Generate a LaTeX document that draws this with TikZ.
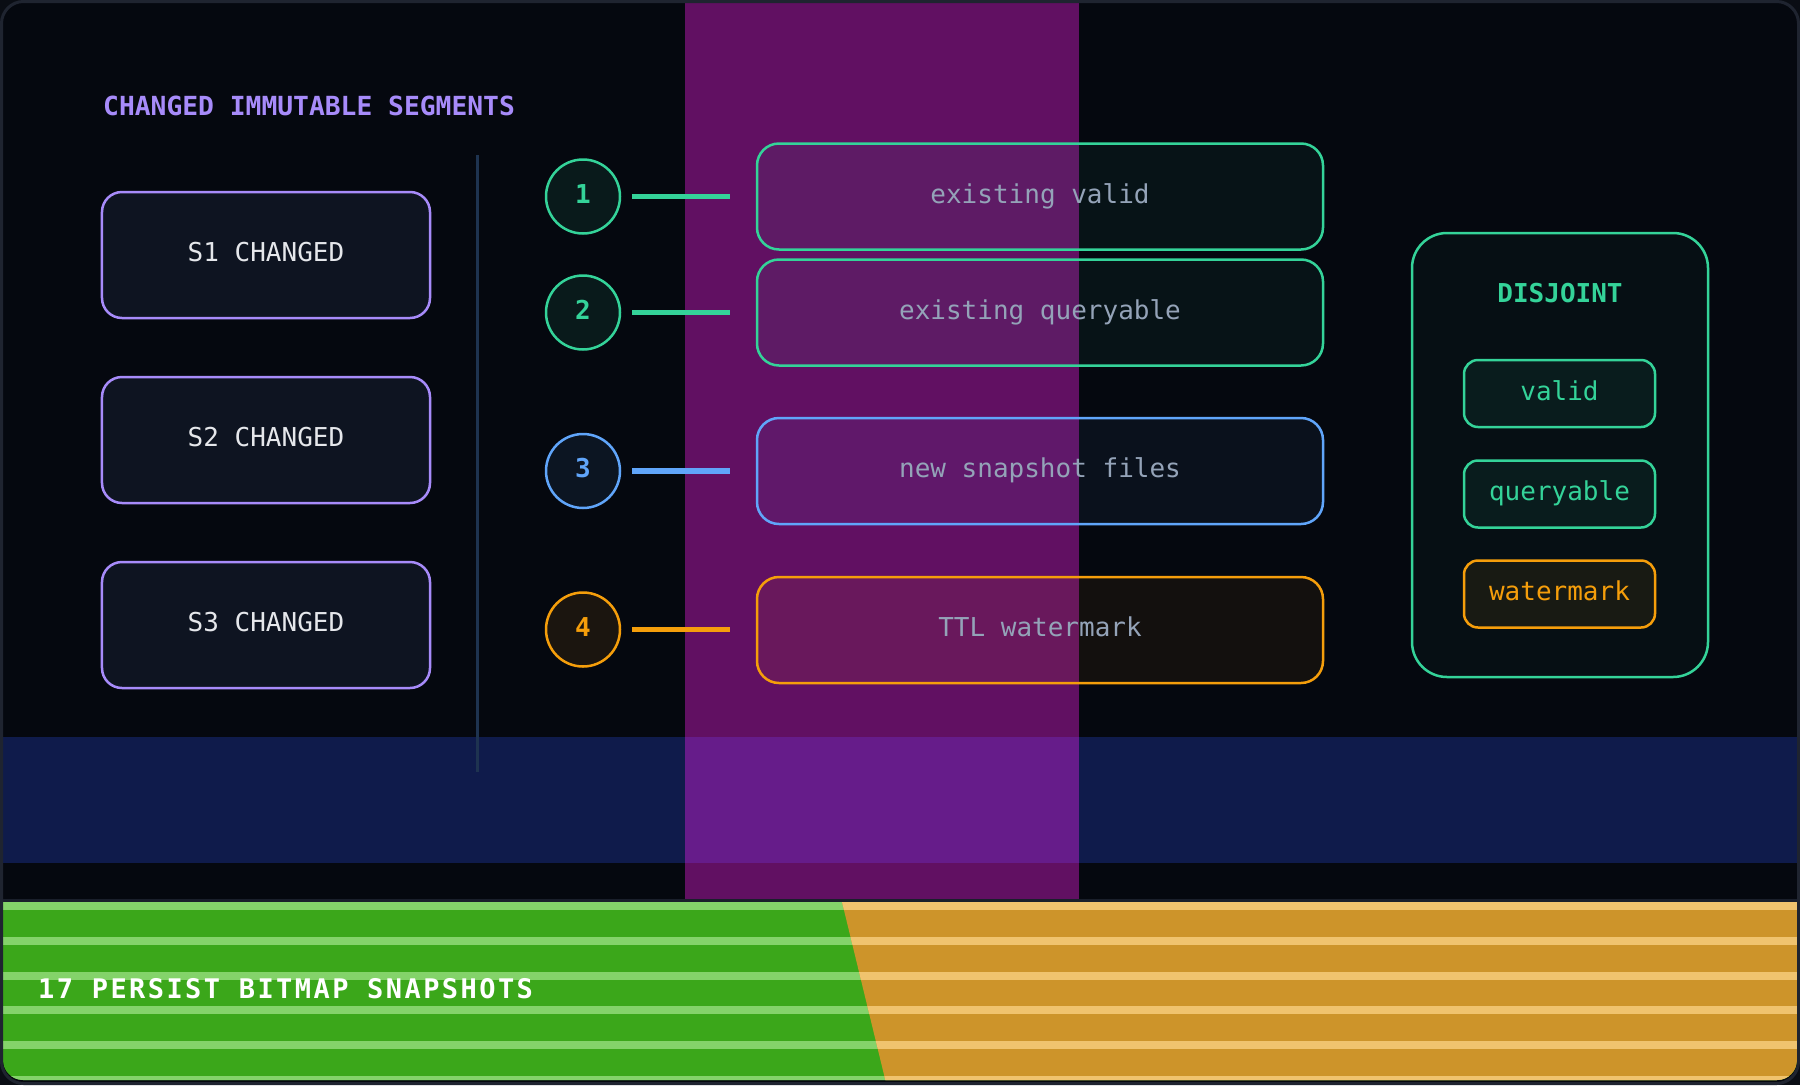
\documentclass[tikz,border=0pt]{standalone}
\usepackage{fontspec}
\setmainfont{DejaVu Sans Mono}
\definecolor{outerbg}{HTML}{0A0D14}
\definecolor{bg}{HTML}{05080F}
\definecolor{framec}{HTML}{1F2430}
\definecolor{colpurple}{HTML}{611062}
\definecolor{bandblue}{HTML}{0F1B4B}
\definecolor{bandmix}{HTML}{661C8A}
\definecolor{violetc}{HTML}{A78BFA}
\definecolor{greenc}{HTML}{34D399}
\definecolor{bluec}{HTML}{60A5FA}
\definecolor{orangec}{HTML}{F59E0B}
\definecolor{grayt}{HTML}{94A3B8}
\definecolor{whitet}{HTML}{E5E7EB}
\definecolor{sfill}{HTML}{0E1421}
\definecolor{divc}{HTML}{1E3350}
\definecolor{barg}{HTML}{3BA71A}
\definecolor{bargl}{HTML}{84D36A}
\definecolor{baro}{HTML}{CD942A}
\definecolor{barol}{HTML}{F0C36E}
\definecolor{sepc}{HTML}{1A1F2B}
\newcommand{\fsz}[1]{\fontsize{#1bp}{#1bp}\selectfont}
\tikzset{
  txtm/.style={text height=18.7bp, text depth=5.2bp},
  sbox/.style={draw=violetc, fill=sfill, line width=2.5bp, rounded corners=20bp,
    minimum width=328bp, minimum height=126bp, text=whitet, font=\fsz{26}, txtm},
  circ/.style={circle, line width=2.5bp, minimum size=74bp, inner sep=0pt,
    font=\fsz{26}\bfseries, txtm},
  ibox/.style={line width=2.5bp, rounded corners=22bp, minimum width=566bp,
    minimum height=106bp, fill opacity=0.06, text opacity=1, text=grayt, font=\fsz{26}, txtm},
  conn/.style={line width=5.5bp},
  smallbox/.style={line width=2.5bp, rounded corners=14bp, minimum width=191bp,
    minimum height=67bp, text opacity=1, font=\fsz{26}, txtm},
}
\begin{document}
\begin{tikzpicture}[x=1bp,y=-1bp]
\useasboundingbox (0,0) rectangle (1800,1085);
\fill[outerbg] (0,0) rectangle (1800,1085);
\fill[bg, rounded corners=22bp] (1.5,1.5) rectangle (1798.5,1083.5);
% purple column and blue band
\fill[colpurple] (685,2) rectangle (1079,899);
\fill[bandblue] (3,737) rectangle (1797,863);
\fill[bandmix] (685,737) rectangle (1079,863);
% bottom bar
\begin{scope}
  \clip[rounded corners=20bp] (3,3) rectangle (1797,1080);
  \fill[barg] (0,902) rectangle (1800,1085);
  \foreach \yy in {902,936.8,971.6,1006.4,1041.2,1076}
    \fill[bargl] (0,\yy) rectangle (1800,\yy+8);
  \begin{scope}
    \clip (842,902) -- (1800,902) -- (1800,1085) -- (886.5,1085) -- cycle;
    \fill[baro] (0,902) rectangle (1800,1085);
    \foreach \yy in {902,936.8,971.6,1006.4,1041.2,1076}
      \fill[barol] (0,\yy) rectangle (1800,\yy+8);
  \end{scope}
\end{scope}
\draw[sepc, line width=3bp] (3,900.5) -- (1797,900.5);
\node[anchor=west, inner sep=0pt, text=white, font=\fsz{27}\bfseries\addfontfeature{LetterSpace=9}] (bartitle) at (38,989) {17 PERSIST BITMAP SNAPSHOTS};
% frame
\draw[framec, line width=3bp, rounded corners=22bp] (1.5,1.5) rectangle (1798.5,1083.5);
% title
\node[anchor=west, inner sep=0pt, text=violetc, font=\fsz{26.3}\bfseries] (title) at (103,106) {CHANGED IMMUTABLE SEGMENTS};
% segment boxes
\node[sbox] (s1) at (266,255) {S1 CHANGED};
\node[sbox] (s2) at (266,440) {S2 CHANGED};
\node[sbox] (s3) at (266,625) {S3 CHANGED};
% divider
\coordinate (dvt) at (477.5,155);
\coordinate (dvb) at (477.5,772);
\draw[divc, line width=3bp] (dvt) -- (dvb);
% circles
\node[circ, draw=greenc, fill=greenc!9!bg, text=greenc] (c1) at (583,196.5) {1};
\node[circ, draw=greenc, fill=greenc!9!bg, text=greenc] (c2) at (583,312.5) {2};
\node[circ, draw=bluec, fill=bluec!8!bg, text=bluec] (c3) at (583,471) {3};
\node[circ, draw=orangec, fill=orangec!9!bg, text=orangec] (c4) at (583,629.5) {4};
% boxes
\node[ibox, draw=greenc, fill=greenc] (b1) at (1040,196.5) {existing valid};
\node[ibox, draw=greenc, fill=greenc] (b2) at (1040,312.5) {existing queryable};
\node[ibox, draw=bluec, fill=bluec] (b3) at (1040,471) {new snapshot files};
\node[ibox, draw=orangec, fill=orangec] (b4) at (1040,630) {TTL watermark};
% connectors
\draw[conn, greenc] ([xshift=11bp]c1.east) -- ([xshift=-26bp]b1.west |- c1.east);
\draw[conn, greenc] ([xshift=11bp]c2.east) -- ([xshift=-26bp]b2.west |- c2.east);
\draw[conn, bluec] ([xshift=11bp]c3.east) -- ([xshift=-26bp]b3.west |- c3.east);
\draw[conn, orangec] ([xshift=11bp]c4.east) -- ([xshift=-26bp]b4.west |- c4.east);
% right panel
\node[draw=greenc, fill=greenc, fill opacity=0.04, line width=2.5bp, rounded corners=35bp,
  minimum width=296bp, minimum height=444bp] (panel) at (1560,455) {};
\node[text=greenc, font=\fsz{26}\bfseries, txtm] (djt) at (1560,296) {DISJOINT};
\node[smallbox, draw=greenc, fill=greenc, fill opacity=0.07, text=greenc] (kv) at (1559.5,393.5) {valid};
\node[smallbox, draw=greenc, fill=greenc, fill opacity=0.07, text=greenc] (kq) at (1559.5,494) {queryable};
\node[smallbox, draw=orangec, fill=orangec, fill opacity=0.08, text=orangec] (kw) at (1559.5,594) {watermark};
\end{tikzpicture}
\end{document}
